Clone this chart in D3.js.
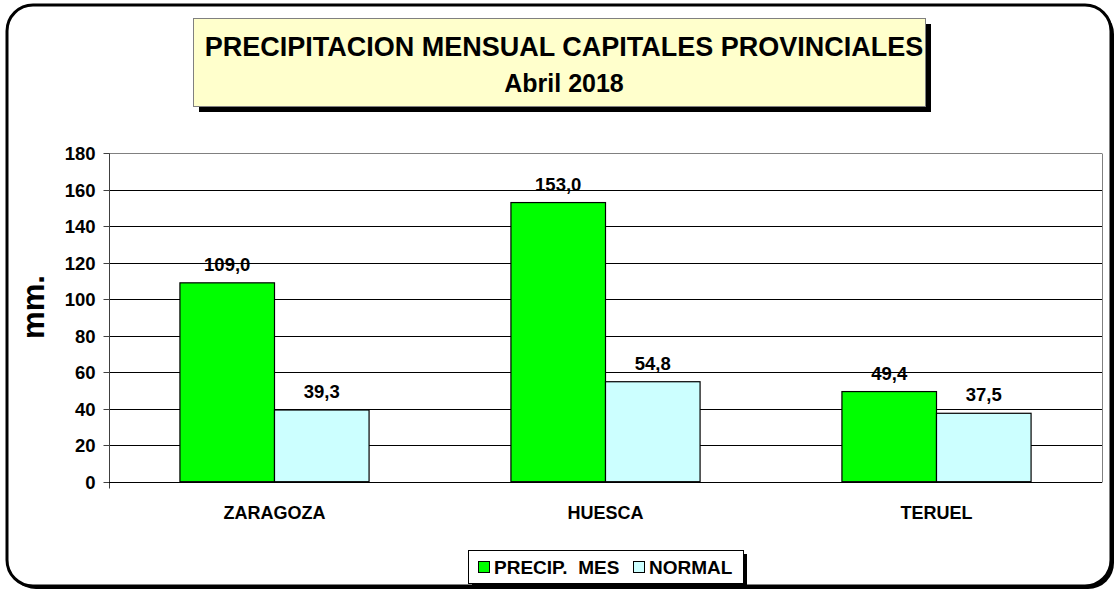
<!DOCTYPE html>
<html>
<head>
<meta charset="utf-8">
<script src="https://cdn.jsdelivr.net/npm/d3@7"></script>
<style>
  html, body { margin: 0; padding: 0; background: #fff; }
  svg { display: block; }
</style>
</head>
<body>
<div id="chart"></div>
<script>
const cities = ["ZARAGOZA", "HUESCA", "TERUEL"];
const series = ["PRECIP.  MES", "NORMAL"];
const precipMes = [109.0, 153.0, 49.4];
const normal = [39.3, 54.8, 37.5];
const yTicks = [0, 20, 40, 60, 80, 100, 120, 140, 160, 180];
const titleLines = ["PRECIPITACION MENSUAL CAPITALES PROVINCIALES", "Abril 2018"];

const W = 1115, H = 590;
const font = "Arial, 'Liberation Sans', sans-serif";
const green = "#00FF00";
const cyan = "#CCFFFF";

const svg = d3.select("#chart").append("svg")
  .attr("width", W).attr("height", H)
  .style("font-family", font);

// outer frame with shadow
svg.append("rect")
  .attr("x", 10).attr("y", 8).attr("width", 1104).attr("height", 581)
  .attr("rx", 26).attr("fill", "#000");
svg.append("rect")
  .attr("x", 7).attr("y", 5).attr("width", 1104).attr("height", 581)
  .attr("rx", 26).attr("fill", "#fff")
  .attr("stroke", "#000").attr("stroke-width", 3);

// plot area
const plot = { left: 109, right: 1102, top: 153.3, bottom: 481.7 };

const x0 = d3.scaleBand().domain(cities).range([plot.left, plot.right]).paddingInner(0).paddingOuter(0);
const x1 = d3.scaleBand().domain(series).range([0, x0.bandwidth()]).paddingInner(0).paddingOuter(0.75);
const y = d3.scaleLinear().domain([0, 180]).range([plot.bottom, plot.top]);

// gridlines
svg.append("g").selectAll("line")
  .data(yTicks.filter(d => d > 0))
  .join("line")
  .attr("x1", plot.left).attr("x2", plot.right)
  .attr("y1", d => Math.round(y(d)) + 0.5).attr("y2", d => Math.round(y(d)) + 0.5)
  .attr("stroke", d => d === 180 ? "#808080" : "#000")
  .attr("stroke-width", 1);

// plot border right
svg.append("line")
  .attr("x1", plot.right + 0.5).attr("x2", plot.right + 0.5)
  .attr("y1", Math.round(plot.top) + 0.5).attr("y2", Math.round(plot.bottom) + 0.5)
  .attr("stroke", "#808080");

// y axis
const yAxis = d3.axisLeft(y).tickValues(yTicks).tickSize(6).tickPadding(8).tickFormat(d3.format("d"));
const yG = svg.append("g")
  .attr("transform", `translate(${plot.left + 0.5},0.5)`)
  .call(yAxis);
yG.select(".domain").attr("stroke", "#404040").attr("d", `M-0,${Math.round(plot.top)}V${Math.round(plot.bottom) + 6}`);
yG.selectAll(".tick line").attr("stroke", "#404040");
yG.selectAll(".tick").attr("transform", d => `translate(0,${Math.round(y(d))})`);
yG.selectAll(".tick text")
  .attr("font-family", font).attr("font-size", 18.5).attr("font-weight", "bold").attr("fill", "#000")
  .attr("dy", "0.36em");

// x axis baseline
svg.append("line")
  .attr("x1", plot.left).attr("x2", plot.right)
  .attr("y1", Math.round(plot.bottom) + 0.5).attr("y2", Math.round(plot.bottom) + 0.5)
  .attr("stroke", "#000");

// bars
const rows = cities.map((c, i) => ({ city: c, values: [precipMes[i], normal[i]] }));
const groups = svg.append("g").selectAll("g")
  .data(rows)
  .join("g")
  .attr("transform", d => `translate(${x0(d.city)},0)`);

groups.selectAll("rect")
  .data(d => series.map((s, j) => ({ s, v: d.values[j] })))
  .join("rect")
  .attr("x", d => x1(d.s))
  .attr("y", d => y(d.v))
  .attr("width", x1.bandwidth())
  .attr("height", d => y(0) - y(d.v))
  .attr("fill", (d, j) => j === 0 ? green : cyan)
  .attr("stroke", "#000").attr("stroke-width", 1.2);

groups.selectAll("text.val")
  .data(d => series.map((s, j) => ({ s, v: d.values[j] })))
  .join("text")
  .attr("class", "val")
  .attr("x", d => x1(d.s) + x1.bandwidth() / 2)
  .attr("y", d => y(d.v) - 12)
  .attr("text-anchor", "middle")
  .attr("font-size", 18.5).attr("font-weight", "bold")
  .text(d => d.v.toFixed(1).replace(".", ","));

// category labels
svg.append("g").selectAll("text")
  .data(cities)
  .join("text")
  .attr("x", d => x0(d) + x0.bandwidth() / 2)
  .attr("y", 519)
  .attr("text-anchor", "middle")
  .attr("font-size", 18).attr("font-weight", "bold")
  .text(d => d);

// y axis title
svg.append("text")
  .attr("transform", "translate(44,307) rotate(-90)")
  .attr("text-anchor", "middle")
  .attr("font-size", 31).attr("font-weight", "bold")
  .text("mm.");

// title box
svg.append("rect").attr("x", 199).attr("y", 24).attr("width", 732).attr("height", 88).attr("fill", "#000");
svg.append("rect").attr("x", 193.5).attr("y", 18.5).attr("width", 732).attr("height", 88)
  .attr("fill", "#FFFFCC").attr("stroke", "#808080").attr("stroke-width", 1);
svg.append("g").selectAll("text")
  .data(titleLines)
  .join("text")
  .attr("x", 564)
  .attr("y", (d, i) => 56 + i * 36)
  .attr("text-anchor", "middle")
  .attr("font-size", (d, i) => i === 0 ? 27 : 25).attr("font-weight", "bold")
  .text(d => d);

// legend
const lg = { x: 468, y: 550, w: 275, h: 33 };
svg.append("rect").attr("x", lg.x + 4).attr("y", lg.y + 4).attr("width", lg.w).attr("height", lg.h).attr("fill", "#000");
svg.append("rect").attr("x", lg.x + 0.5).attr("y", lg.y + 0.5).attr("width", lg.w).attr("height", lg.h)
  .attr("fill", "#fff").attr("stroke", "#000").attr("stroke-width", 1);
const legendX = [478, 633];
const legendItems = svg.append("g").selectAll("g")
  .data(series)
  .join("g")
  .attr("transform", (d, i) => `translate(${legendX[i]},${lg.y + 11})`);
legendItems.append("rect")
  .attr("x", 0.5).attr("y", 0.5).attr("width", 11).attr("height", 11)
  .attr("fill", (d, i) => i === 0 ? green : cyan)
  .attr("stroke", "#000");
legendItems.append("text")
  .attr("x", 16).attr("y", 13)
  .attr("font-size", 19).attr("font-weight", "bold")
  .style("white-space", "pre")
  .text(d => d);
</script>
</body>
</html>
